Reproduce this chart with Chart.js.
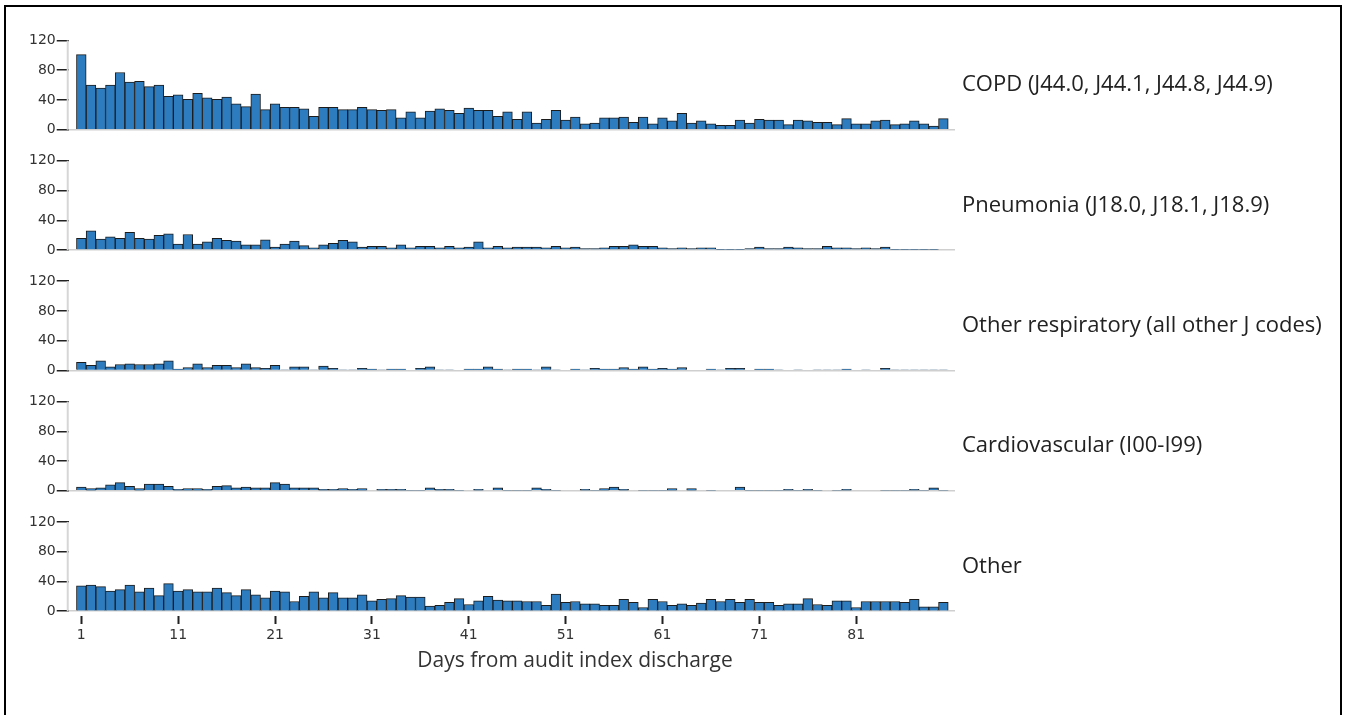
<!DOCTYPE html>
<html>
<head>
<meta charset="utf-8">
<script src="https://cdn.jsdelivr.net/npm/chart.js@4.4.0/dist/chart.umd.min.js"></script>
<style>
  html, body { margin: 0; padding: 0; background: #fff; }
  #wrap { position: relative; width: 1345px; height: 715px; overflow: hidden; }
  #frame { position: absolute; left: 4px; top: 5px; width: 1334px; height: 800px; border: 2px solid #000; }
  canvas { position: absolute; left: 0; top: 0; }
</style>
</head>
<body>
<div id="wrap">
  <div id="frame"></div>
  <canvas id="myChart" width="1345" height="715"></canvas>
</div>
<script>
var days = [1, 2, 3, 4, 5, 6, 7, 8, 9, 10, 11, 12, 13, 14, 15, 16, 17, 18, 19, 20,
  21, 22, 23, 24, 25, 26, 27, 28, 29, 30, 31, 32, 33, 34, 35, 36, 37, 38, 39, 40,
  41, 42, 43, 44, 45, 46, 47, 48, 49, 50, 51, 52, 53, 54, 55, 56, 57, 58, 59, 60,
  61, 62, 63, 64, 65, 66, 67, 68, 69, 70, 71, 72, 73, 74, 75, 76, 77, 78, 79, 80,
  81, 82, 83, 84, 85, 86, 87, 88, 89, 90];

var copd = [101, 60, 56, 60, 77, 64, 65, 58, 60, 45, 47, 41, 49, 43, 41, 44, 35, 31, 48, 27,
  35, 30, 30, 28, 18, 30, 30, 27, 27, 30, 27, 26, 27, 16, 24, 16, 25, 28, 26, 22,
  29, 26, 26, 18, 24, 14, 24, 9, 14, 26, 13, 17, 8, 9, 16, 16, 17, 10, 17, 8,
  16, 12, 22, 9, 12, 8, 6, 6, 13, 9, 14, 13, 13, 7, 13, 12, 10, 10, 7, 15,
  8, 8, 12, 13, 7, 8, 12, 8, 5, 15];
var pneumonia = [16, 26, 15, 18, 16, 24, 16, 15, 20, 22, 8, 21, 8, 11, 16, 13, 12, 7, 7, 14,
  4, 8, 12, 6, 3, 7, 9, 13, 11, 4, 5, 5, 3, 7, 3, 5, 5, 3, 5, 3,
  4, 11, 3, 5, 3, 4, 4, 4, 3, 5, 3, 4, 2, 2, 3, 5, 5, 7, 5, 5,
  3, 2, 3, 2, 3, 3, 1, 1, 1, 2, 4, 2, 2, 4, 3, 2, 2, 5, 3, 3,
  2, 3, 2, 4, 1, 1, 1, 1, 1, 0];
var otherResp = [11, 7, 13, 5, 8, 9, 8, 8, 9, 13, 2, 4, 9, 4, 7, 7, 4, 9, 4, 3,
  7, 1, 5, 5, 1, 6, 3, 1, 1, 3, 2, 1, 2, 2, 0, 3, 5, 1, 1, 0,
  2, 2, 5, 2, 1, 2, 2, 1, 5, 1, 0, 2, 1, 3, 2, 2, 4, 2, 5, 2,
  3, 2, 4, 0, 0, 2, 1, 3, 3, 0, 2, 2, 1, 0, 1, 0, 1, 1, 1, 2,
  0, 1, 0, 3, 1, 1, 1, 1, 1, 1];
var cardio = [5, 3, 4, 8, 11, 6, 3, 9, 9, 6, 2, 3, 3, 2, 6, 7, 4, 5, 4, 4,
  11, 9, 4, 4, 4, 2, 2, 3, 2, 3, 0, 2, 2, 2, 1, 1, 4, 2, 2, 1,
  0, 2, 0, 4, 1, 1, 1, 4, 2, 1, 0, 0, 2, 1, 3, 5, 2, 0, 1, 1,
  1, 3, 0, 3, 0, 1, 0, 0, 5, 1, 1, 1, 1, 2, 1, 2, 1, 0, 1, 2,
  0, 0, 0, 1, 1, 1, 2, 1, 4, 1];
var other = [34, 35, 33, 27, 29, 35, 26, 31, 21, 37, 27, 29, 26, 26, 31, 25, 21, 29, 22, 18,
  27, 26, 13, 20, 26, 18, 25, 18, 18, 22, 14, 16, 17, 21, 19, 19, 7, 8, 12, 17,
  9, 14, 20, 15, 14, 14, 13, 13, 8, 23, 12, 13, 10, 10, 8, 8, 16, 12, 5, 16,
  13, 8, 10, 8, 11, 16, 13, 16, 12, 16, 12, 12, 8, 10, 10, 17, 9, 8, 14, 14,
  5, 13, 13, 13, 13, 12, 16, 6, 6, 12];

var panelNames = ["COPD (J44.0, J44.1, J44.8, J44.9)", "Pneumonia (J18.0, J18.1, J18.9)",
  "Other respiratory (all other J codes)", "Cardiovascular (I00-I99)", "Other"];
var panelData = [copd, pneumonia, otherResp, cardio, other];
var yTicks = [0, 40, 80, 120];
var xTicks = [1, 11, 21, 31, 41, 51, 61, 71, 81];
var xTitle = "Days from audit index discharge";

var tickFont = { family: "DejaVu Sans", size: 14 };
var nameFont = '22px "Open Sans"';
var titleFont = '21px "Open Sans"';

// one stacked y axis per panel, sharing the day axis at the bottom
var scales = {
  x: {
    type: "linear",
    min: -0.3,
    max: 91.2,
    offset: false,
    afterBuildTicks: function (s) { s.ticks = xTicks.map(function (v) { return { value: v }; }); },
    border: { display: false },
    grid: { offset: false, drawOnChartArea: false, tickLength: 13, tickColor: "#222", tickWidth: 2, tickBorderDash: [0, 5, 8, 40] },
    ticks: { color: "#333", font: tickFont, padding: 3, autoSkip: false, maxRotation: 0 }
  }
};
// stacked axes are laid out bottom-up, so add the last panel first
for (var k = panelData.length - 1; k >= 0; k--) {
  scales["y" + k] = {
    type: "linear",
    position: "left",
    stack: "panels",
    stackWeight: 1,
    min: 0,
    max: 161.8,
    afterBuildTicks: function (s) { s.ticks = yTicks.map(function (v) { return { value: v }; }); },
    border: { display: false },
    grid: {
      color: function (c) { return c.tick && c.tick.value === 0 ? "#cfcfcf" : "rgba(0,0,0,0)"; },
      lineWidth: 1.5,
      tickColor: "#222",
      tickLength: 12,
      tickWidth: 1.5
    },
    ticks: { color: "#333", font: tickFont, padding: 1, autoSkip: false }
  };
}
var datasets = panelData.map(function (vals, k) {
  return {
    label: panelNames[k],
    yAxisID: "y" + k,
    data: days.map(function (d, i) { return { x: d, y: vals[i] }; }),
    grouped: false,
    barPercentage: 1,
    categoryPercentage: 1,
    backgroundColor: "#2c7cbf",
    borderColor: "#1c1c1c",
    borderWidth: 1
  };
});

// axis stubs (0..120), panel names on the right, axis title under the ticks
var panelDecor = {
  id: "panelDecor",
  afterDraw: function (chart) {
    var ctx = chart.ctx, area = chart.chartArea;
    ctx.save();
    panelNames.forEach(function (name, k) {
      var ys = chart.scales["y" + k];
      ctx.strokeStyle = "#d6d6d6";
      ctx.lineWidth = 2;
      ctx.beginPath();
      ctx.moveTo(area.left - 1, ys.getPixelForValue(120));
      ctx.lineTo(area.left - 1, ys.getPixelForValue(0));
      ctx.stroke();
      ctx.fillStyle = "#222";
      ctx.font = nameFont;
      ctx.textAlign = "left";
      ctx.textBaseline = "middle";
      ctx.fillText(name, area.right + 7, ys.getPixelForValue(60));
    });
    ctx.font = titleFont;
    ctx.textAlign = "center";
    ctx.textBaseline = "middle";
    ctx.fillStyle = "#333";
    ctx.fillText(xTitle, 575, 661);
    ctx.restore();
  }
};

new Chart("myChart", {
  type: "bar",
  data: { datasets: datasets },
  options: {
    responsive: false,
    animation: false,
    layout: { padding: { left: 28, top: 9, right: 390, bottom: 68 } },
    plugins: { legend: { display: false }, tooltip: { enabled: false } },
    scales: scales
  },
  plugins: [panelDecor]
});
</script>
</body>
</html>
